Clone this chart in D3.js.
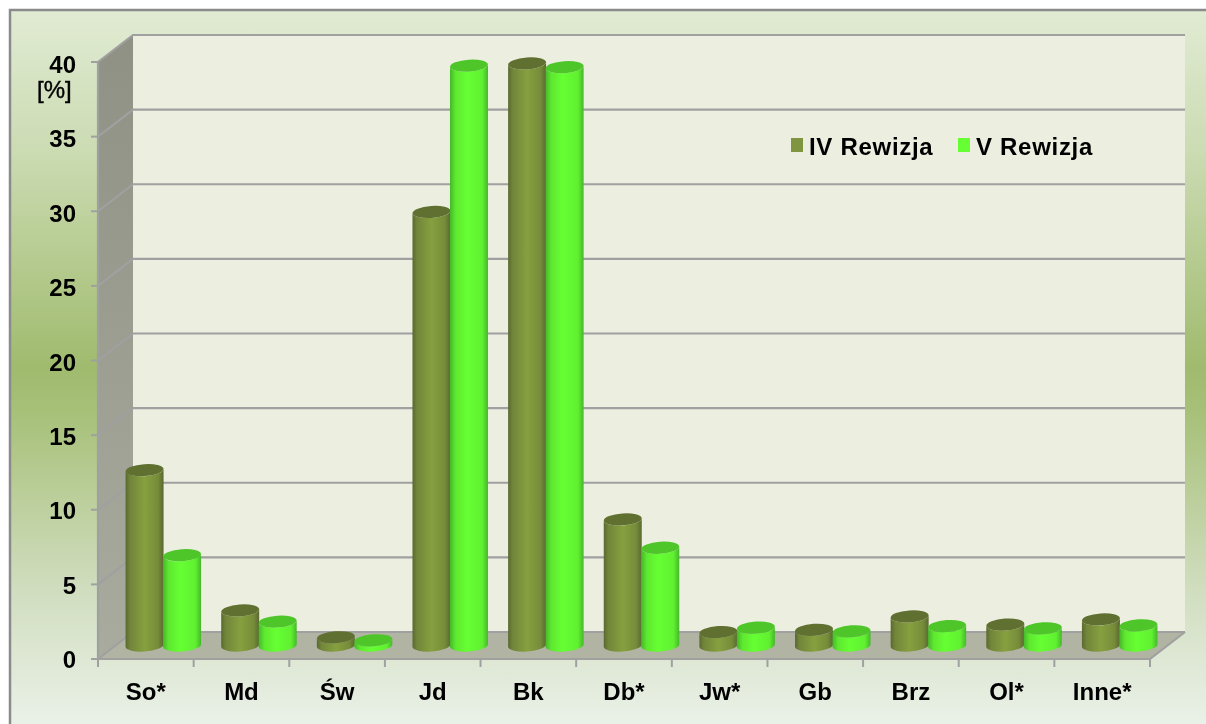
<!DOCTYPE html>
<html><head><meta charset="utf-8">
<script src="https://cdn.jsdelivr.net/npm/d3@7/dist/d3.min.js"></script>
<style>html,body{margin:0;padding:0;background:#fff}svg{display:block;filter:blur(0.45px)}text{font-family:"Liberation Sans",Arial,sans-serif;font-weight:bold;fill:#000}</style>
</head><body><svg id="c" width="1206" height="724"></svg>
<script>
const categories=["So*","Md","Św","Jd","Bk","Db*","Jw*","Gb","Brz","Ol*","Inne*"];
const seriesNames=["IV Rewizja","V Rewizja"];
const rewizja4=[11.75,2.35,0.55,29.05,39,8.45,0.9,1.05,1.95,1.4,1.75];
const rewizja5=[6.05,1.6,0.35,38.85,38.75,6.55,1.2,0.95,1.3,1.15,1.35];
const yTicks=[0,5,10,15,20,25,30,35,40];

const W=1206,H=724, dx=35, dy=27;
const svg=d3.select("#c");
const x=d3.scaleBand().domain(categories).range([98,1150]);
const y=d3.scaleLinear().domain([0,40]).range([659,62]);
const yLabel=d3.scaleLinear().domain([0,40]).range([660,65]);
const inner=d3.scaleBand().domain([0,1]).range([0,75]);
const defs=svg.append("defs");
function grad(id,stops,vertical){
  const g=defs.append("linearGradient").attr("id",id).attr("x1",0).attr("y1",0)
    .attr("x2",vertical?0:1).attr("y2",vertical?1:0);
  stops.forEach(s=>g.append("stop").attr("offset",s[0]).attr("stop-color",s[1]));
}
grad("bg",[[0,"#e1ebd3"],[0.2,"#cbdbb2"],[0.5,"#a0bb6e"],[0.56,"#a6c078"],[0.8,"#cfdcbc"],[1,"#eaf1e8"]],true);
grad("wallSide",[[0,"#8f9184"],[1,"#a9ab9f"]],true);
grad("olive",[[0,"#5a6930"],[0.12,"#72853a"],[0.5,"#86a03f"],[0.85,"#778c3a"],[1,"#5a6930"]]);
grad("lime",[[0,"#45b82a"],[0.15,"#5fe830"],[0.45,"#66ff33"],[0.85,"#60f030"],[1,"#45b82a"]]);

svg.append("rect").attr("x",10).attr("y",10).attr("width",W-10).attr("height",H-10).attr("fill","url(#bg)");
svg.append("path").attr("d",`M10,${H}V10H${W}`).attr("fill","none").attr("stroke","#8b8b8b").attr("stroke-width",2.5);

const x0=x.range()[0],x1=x.range()[1],y0=y(0),yT=y(40);
svg.append("rect").attr("x",x0+dx).attr("y",yT-dy).attr("width",x1-x0).attr("height",y0-yT).attr("fill","#ecefe0");
svg.append("path").attr("d",`M${x0},${y0}V${yT}L${x0+dx},${yT-dy}V${y0-dy}Z`).attr("fill","url(#wallSide)");
svg.append("path").attr("d",`M${x0},${y0}L${x0+dx},${y0-dy}H${x1+dx}L${x1},${y0}Z`).attr("fill","#b1b4a3");

const gridC="#a0a0a0";
yTicks.forEach(t=>{
  svg.append("path").attr("d",`M${x0},${y(t)}L${x0+dx},${y(t)-dy}H${x1+dx}`).attr("fill","none").attr("stroke",gridC).attr("stroke-width",2.2);
});
svg.append("path").attr("d",`M${x0},${yT}V${y0}H${x1}L${x1+dx},${y0-dy}`).attr("fill","none").attr("stroke",gridC).attr("stroke-width",2.2);
yTicks.forEach(t=>{
  svg.append("line").attr("x1",x0-7).attr("x2",x0).attr("y1",y(t)).attr("y2",y(t)).attr("stroke",gridC).attr("stroke-width",2);
  svg.append("text").attr("x",x0-22).attr("y",yLabel(t)+8).attr("text-anchor","end").attr("font-size",24).text(t);
});
x.domain().concat([null]).forEach(c=>{
  const px=c===null?x1:x(c);
  svg.append("line").attr("x1",px).attr("x2",px).attr("y1",y0).attr("y2",y0+8).attr("stroke",gridC).attr("stroke-width",2);
});
svg.append("text").attr("x",37).attr("y",98).attr("font-size",24).style("font-weight","normal").style("stroke","#000").style("stroke-width",0.4).text("[%]");

categories.forEach(c=>{
  svg.append("text").attr("x",x(c)+x.bandwidth()/2).attr("y",700).attr("text-anchor","middle").attr("font-size",24).text(c);
});

// cylinders, standing half-way into the floor's depth
const rot=-4, ry=6;
function cylinder(cx,rx,v,fill,top){
  const midZero=y(0)-dy/2, top_y=midZero-(y(0)-y(v)), s=rx*Math.sin(-rot*Math.PI/180);
  const g=svg.append("g");
  g.append("path").attr("fill",`url(#${fill})`).attr("d",
    `M${cx-rx},${top_y+s}L${cx-rx},${midZero+s}A${rx},${ry} ${rot} 0 0 ${cx+rx},${midZero-s}L${cx+rx},${top_y-s}A${rx},${ry} ${rot} 0 1 ${cx-rx},${top_y+s}Z`);
  g.append("ellipse").attr("cx",cx).attr("cy",top_y).attr("rx",rx).attr("ry",ry)
    .attr("transform",`rotate(${rot} ${cx} ${top_y})`).attr("fill",top);
}
categories.forEach((c,i)=>{
  const left=x(c)+x.bandwidth()/2+dx/2-inner.range()[1]/2;
  cylinder(left+inner(0)+inner.bandwidth()/2,19,rewizja4[i],"olive","#5f7030");
  cylinder(left+inner(1)+inner.bandwidth()/2,19,rewizja5[i],"lime","#4ec62a");
});

const legend=[[791,"#7f953f"],[958,"#66ff33"]];
seriesNames.forEach((n,i)=>{
  svg.append("rect").attr("x",legend[i][0]).attr("y",138).attr("width",12).attr("height",14).attr("fill",legend[i][1]);
  svg.append("text").attr("x",legend[i][0]+18).attr("y",155).attr("font-size",24).style("letter-spacing","0.7px").text(n);
});
</script></body></html>
